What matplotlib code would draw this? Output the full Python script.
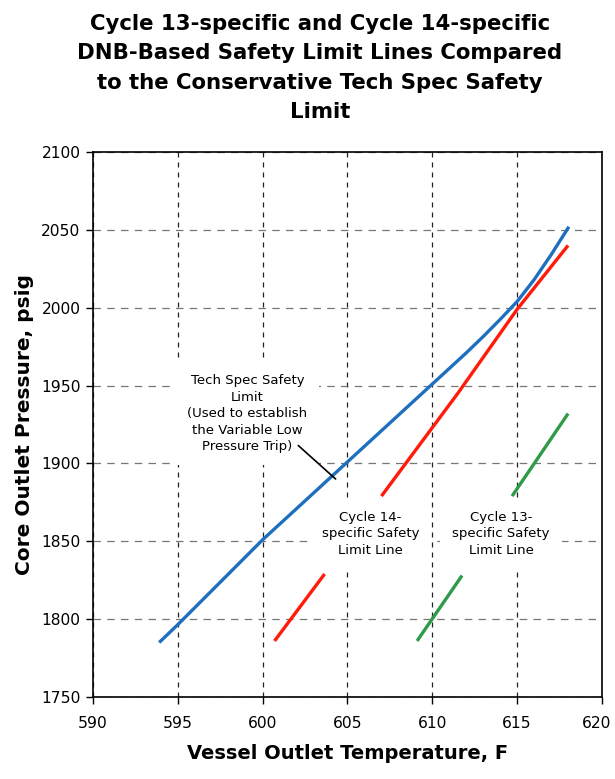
import matplotlib
matplotlib.use("Agg")
import matplotlib.pyplot as plt
import matplotlib.transforms as mtransforms

# ---- data ----
temp_ticks = [590, 595, 600, 605, 610, 615, 620]
press_ticks = [1750, 1800, 1850, 1900, 1950, 2000, 2050, 2100]

techspec_T = [593.9, 595, 600, 605, 610, 611, 612, 613, 614, 615, 616, 617, 618.05]
techspec_P = [1785, 1796.5, 1851, 1901, 1951, 1961, 1971, 1981.5, 1992.5, 2004, 2018, 2034, 2052]

cyc14_lower_T = [600.7, 603.65]
cyc14_lower_P = [1786, 1829]
cyc14_upper_T = [607.0, 611.5, 615.0, 618.0]
cyc14_upper_P = [1879, 1945, 1999, 2040]

cyc13_lower_T = [609.1, 611.75]
cyc13_lower_P = [1786, 1828]
cyc13_upper_T = [614.7, 618.0]
cyc13_upper_P = [1879, 1932]

title = ("Cycle 13-specific and Cycle 14-specific\n"
         "DNB-Based Safety Limit Lines Compared\n"
         "to the Conservative Tech Spec Safety\n"
         "Limit")
techspec_label = "Tech Spec Safety\nLimit\n(Used to establish\nthe Variable Low\nPressure Trip)"
cyc14_label = "Cycle 14-\nspecific Safety\nLimit Line"
cyc13_label = "Cycle 13-\nspecific Safety\nLimit Line"

BLUE = "#1f6fbf"
RED = "#ff1a0a"
GREEN = "#2f9a48"

fig = plt.figure(figsize=(6.15, 7.79), dpi=100)
fig.patch.set_facecolor("white")
W, H = 615, 779
ax = fig.add_axes([93 / W, 1 - 697 / H, 509 / W, 545 / H])

ax.set_xlim(590, 620)
ax.set_ylim(1750, 2100)
ax.set_xticks(temp_ticks)
ax.set_yticks(press_ticks)
ax.tick_params(axis="both", direction="out", length=5, width=1, labelsize=11.2, pad=4)
for lab in ax.get_xticklabels() + ax.get_yticklabels():
    lab.set_family("DejaVu Sans")
ax.tick_params(axis="x", pad=9)

# keep the last x tick label inside the figure
last = ax.get_xticklabels()[-1]
last.set_transform(last.get_transform() +
                   mtransforms.ScaledTranslation(-5 / 100, 0, fig.dpi_scale_trans))

ax.xaxis.grid(True, color="#222222", linestyle=(0, (4, 4)), linewidth=0.9, zorder=1)
ax.yaxis.grid(True, color="#777777", linestyle=(0, (6, 5)), linewidth=0.9, zorder=1)
ax.set_axisbelow(True)
for s in ax.spines.values():
    s.set_color("black")
    s.set_linewidth(1.2)

lw = 2.4
ax.plot(techspec_T, techspec_P, color=BLUE, lw=lw, solid_capstyle="butt", zorder=4)
ax.plot(cyc14_lower_T, cyc14_lower_P, color=RED, lw=lw, solid_capstyle="butt", zorder=4)
ax.plot(cyc14_upper_T, cyc14_upper_P, color=RED, lw=lw, solid_capstyle="butt", zorder=4)
ax.plot(cyc13_lower_T, cyc13_lower_P, color=GREEN, lw=lw, solid_capstyle="butt", zorder=4)
ax.plot(cyc13_upper_T, cyc13_upper_P, color=GREEN, lw=lw, solid_capstyle="butt", zorder=4)

txtkw = dict(ha="center", va="center", fontsize=9.5, family="DejaVu Sans",
             linespacing=1.35, zorder=3,
             bbox=dict(boxstyle="square,pad=0.9", fc="white", ec="none"))
ax.text(599.1, 1932, techspec_label, **txtkw)
ax.text(606.35, 1855, cyc14_label, **txtkw)
ax.text(614.05, 1855, cyc13_label, **txtkw)

ax.annotate("", xy=(604.3, 1890), xytext=(602.1, 1911.5),
            arrowprops=dict(arrowstyle="-", color="black", lw=1.2,
                            shrinkA=0, shrinkB=0), zorder=5)

ax.set_xlabel("Vessel Outlet Temperature, F", fontsize=14, fontweight="bold",
              family="DejaVu Sans", labelpad=9)
ax.set_ylabel("Core Outlet Pressure, psig", fontsize=14.5, fontweight="bold",
              family="DejaVu Sans", labelpad=5)

fig.text(320 / W, 1 - 68 / H, title, ha="center", va="center", fontsize=15.3,
         fontweight="bold", family="DejaVu Sans", linespacing=1.6)

fig.savefig("out.png", dpi=100, facecolor="white")
